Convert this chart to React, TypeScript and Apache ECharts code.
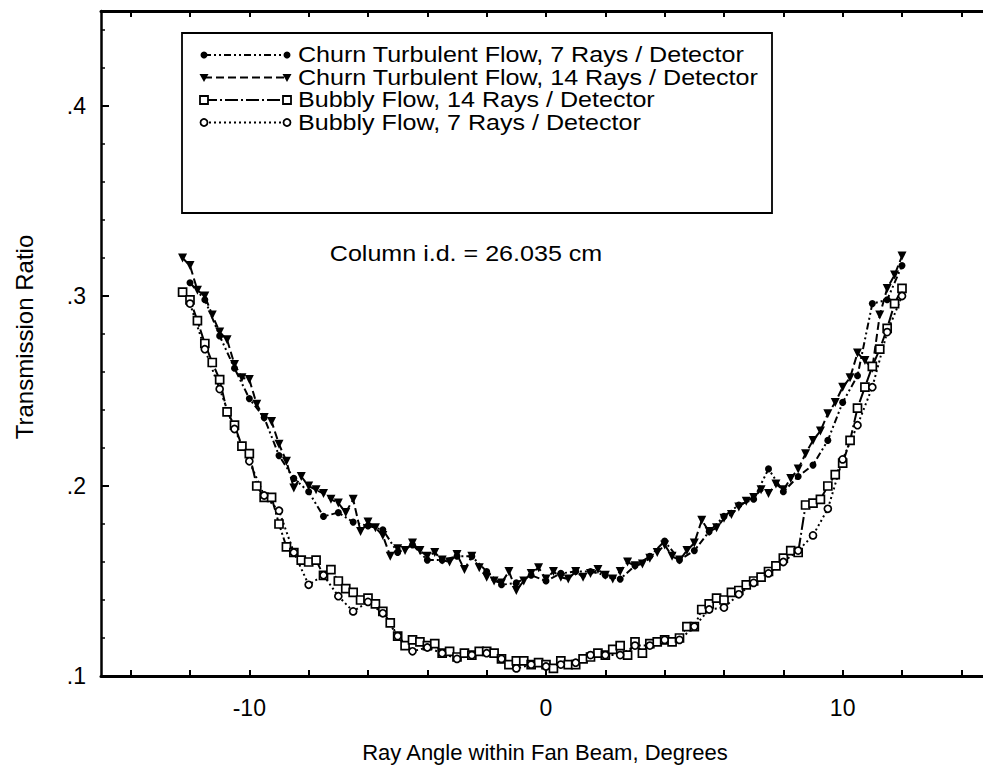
import React, { useEffect, useRef } from "react";
import * as echarts from "echarts";

// ---- data ----
const xRays14 = [
  -12.25, -12, -11.75, -11.5, -11.25, -11, -10.75, -10.5, -10.25, -10,
  -9.75, -9.5, -9.25, -9, -8.75, -8.5, -8.25, -8, -7.75, -7.5,
  -7.25, -7, -6.75, -6.5, -6.25, -6, -5.75, -5.5, -5.25, -5,
  -4.75, -4.5, -4.25, -4, -3.75, -3.5, -3.25, -3, -2.75, -2.5,
  -2.25, -2, -1.75, -1.5, -1.25, -1, -0.75, -0.5, -0.25, 0,
  0.25, 0.5, 0.75, 1, 1.25, 1.5, 1.75, 2, 2.25, 2.5,
  2.75, 3, 3.25, 3.5, 3.75, 4, 4.25, 4.5, 4.75, 5,
  5.25, 5.5, 5.75, 6, 6.25, 6.5, 6.75, 7, 7.25, 7.5,
  7.75, 8, 8.25, 8.5, 8.75, 9, 9.25, 9.5, 9.75, 10,
  10.25, 10.5, 10.75, 11, 11.25, 11.5, 11.75, 12,
];

const churn14 = [
  0.320, 0.316, 0.303, 0.300, 0.290, 0.281, 0.277, 0.264, 0.257, 0.256,
  0.243, 0.236, 0.234, 0.222, 0.213, 0.199, 0.205, 0.200, 0.198, 0.196,
  0.193, 0.191, 0.186, 0.193, 0.176, 0.181, 0.178, 0.174, 0.163, 0.167,
  0.166, 0.170, 0.166, 0.163, 0.165, 0.161, 0.160, 0.164, 0.156, 0.163,
  0.157, 0.152, 0.150, 0.149, 0.155, 0.145, 0.150, 0.154, 0.157, 0.151,
  0.155, 0.152, 0.151, 0.155, 0.152, 0.154, 0.156, 0.153, 0.151, 0.155,
  0.160, 0.158, 0.159, 0.162, 0.165, 0.169, 0.163, 0.161, 0.166, 0.170,
  0.182, 0.176, 0.178, 0.183, 0.185, 0.189, 0.192, 0.194, 0.198, 0.196,
  0.201, 0.198, 0.204, 0.209, 0.217, 0.224, 0.229, 0.238, 0.244, 0.252,
  0.257, 0.270, 0.266, 0.262, 0.290, 0.304, 0.311, 0.321,
];

const bubbly14 = [
  0.302, 0.298, 0.287, 0.275, 0.265, 0.256, 0.239, 0.232, 0.221, 0.217,
  0.200, 0.194, 0.194, 0.180, 0.168, 0.165, 0.161, 0.160, 0.161, 0.153,
  0.156, 0.150, 0.146, 0.144, 0.140, 0.141, 0.138, 0.134, 0.128, 0.121,
  0.116, 0.119, 0.118, 0.116, 0.117, 0.112, 0.113, 0.110, 0.112, 0.111,
  0.113, 0.113, 0.112, 0.109, 0.106, 0.108, 0.108, 0.106, 0.107, 0.106,
  0.104, 0.108, 0.106, 0.106, 0.109, 0.110, 0.112, 0.111, 0.114, 0.116,
  0.111, 0.118, 0.112, 0.117, 0.118, 0.119, 0.118, 0.120, 0.126, 0.126,
  0.135, 0.138, 0.141, 0.140, 0.144, 0.145, 0.148, 0.150, 0.152, 0.155,
  0.158, 0.162, 0.166, 0.165, 0.190, 0.191, 0.193, 0.200, 0.206, 0.212,
  0.224, 0.241, 0.252, 0.263, 0.272, 0.283, 0.296, 0.304,
];

const xRays7 = [
  -12, -11.5, -11, -10.5, -10, -9.5, -9, -8.5, -8, -7.5,
  -7, -6.5, -6, -5.5, -5, -4.5, -4, -3.5, -3, -2.5,
  -2, -1.5, -1, -0.5, 0, 0.5, 1, 1.5, 2, 2.5,
  3, 3.5, 4, 4.5, 5, 5.5, 6, 6.5, 7, 7.5,
  8, 8.5, 9, 9.5, 10, 10.5, 11, 11.5, 12,
];

const churn7 = [
  0.307, 0.298, 0.279, 0.262, 0.246, 0.236, 0.216, 0.204, 0.197, 0.184,
  0.186, 0.181, 0.179, 0.177, 0.165, 0.169, 0.161, 0.161, 0.163, 0.163,
  0.155, 0.148, 0.149, 0.153, 0.150, 0.154, 0.155, 0.155, 0.153, 0.151,
  0.158, 0.163, 0.171, 0.161, 0.166, 0.176, 0.184, 0.190, 0.193, 0.209,
  0.197, 0.205, 0.211, 0.224, 0.244, 0.258, 0.296, 0.298, 0.316,
];

const bubbly7 = [
  0.296, 0.272, 0.251, 0.230, 0.213, 0.195, 0.187, 0.165, 0.148, 0.153,
  0.142, 0.134, 0.139, 0.133, 0.121, 0.113, 0.115, 0.112, 0.109, 0.111,
  0.112, 0.109, 0.104, 0.106, 0.105, 0.106, 0.107, 0.111, 0.111, 0.111,
  0.116, 0.116, 0.119, 0.119, 0.126, 0.135, 0.136, 0.143, 0.149, 0.154,
  0.160, 0.166, 0.174, 0.188, 0.214, 0.232, 0.252, 0.281, 0.300,
];

const seriesNames = [
  "Churn Turbulent Flow, 7 Rays / Detector",
  "Churn Turbulent Flow, 14 Rays / Detector",
  "Bubbly Flow, 14 Rays / Detector",
  "Bubbly Flow, 7 Rays / Detector",
];

const xLabelValues = [-10, 0, 10];
const xTickValues = [-14, -12, -10, -8, -6, -4, -2, 0, 2, 4, 6, 8, 10, 12, 14];
const yLabelValues = [0.1, 0.2, 0.3, 0.4];
const yMinorValues = [
  0.12, 0.14, 0.16, 0.18, 0.22, 0.24, 0.26, 0.28, 0.32, 0.34, 0.36, 0.38, 0.42, 0.44,
];

const xTitle = "Ray Angle within Fan Beam, Degrees";
const yTitle = "Transmission Ratio";
const noteText = "Column i.d. = 26.035 cm";

// ---- styles ----
const FONT = '"Liberation Sans", Arial, Helvetica, sans-serif';
const dashChurn7 = [7, 3, 2, 3, 2, 3];
const dashChurn14 = [8, 4];
const dashBubbly14 = [13, 3, 2, 3];
const dashBubbly7 = [2, 3];

function pairs(xs: number[], ys: number[]) {
  return xs.map((x, i) => [x, ys[i]]);
}

function marker(kind: string, cx: number, cy: number): any {
  if (kind === "dot") {
    return { type: "circle", shape: { cx, cy, r: 3.5 }, style: { fill: "#000" }, z: 20 };
  }
  if (kind === "tri") {
    return {
      type: "polygon",
      shape: { points: [[cx - 4.5, cy - 3.5], [cx + 4.5, cy - 3.5], [cx, cy + 4.5]] },
      style: { fill: "#000" },
      z: 20,
    };
  }
  if (kind === "sq") {
    return {
      type: "rect",
      shape: { x: cx - 4, y: cy - 4, width: 8, height: 8 },
      style: { fill: "#fff", stroke: "#000", lineWidth: 1.8 },
      z: 20,
    };
  }
  return {
    type: "circle",
    shape: { cx, cy, r: 3.5 },
    style: { fill: "#fff", stroke: "#000", lineWidth: 1.8 },
    z: 20,
  };
}

export default function App() {
  const ref = useRef<HTMLDivElement>(null);

  useEffect(() => {
    if (!ref.current) return;
    const chart = echarts.init(ref.current, undefined, { renderer: "svg" });

    const legendRows = [
      { name: seriesNames[0], mk: "dot", dash: dashChurn7 },
      { name: seriesNames[1], mk: "tri", dash: dashChurn14 },
      { name: seriesNames[2], mk: "sq", dash: dashBubbly14 },
      { name: seriesNames[3], mk: "ring", dash: dashBubbly7 },
    ];
    const legendEls: any[] = [
      {
        type: "rect",
        shape: { x: 182, y: 33, width: 590, height: 180 },
        style: { fill: "#fff", stroke: "#000", lineWidth: 1.8 },
        z: 10,
      },
    ];
    legendRows.forEach((r, i) => {
      const y = 55 + i * 22.5;
      legendEls.push({
        type: "line",
        shape: { x1: 204, y1: y, x2: 287, y2: y },
        style: { stroke: "#000", lineWidth: 1.8, lineDash: r.dash },
        z: 15,
      });
      legendEls.push(marker(r.mk, 204, y));
      legendEls.push(marker(r.mk, 287, y));
      legendEls.push({
        type: "text",
        x: 298,
        y,
        scaleX: 1.14,
        style: {
          text: r.name,
          fontFamily: FONT,
          fontSize: 22,
          fill: "#000",
          align: "left",
          verticalAlign: "middle",
        },
        z: 20,
      });
    });

    const option: any = {
      animation: false,
      backgroundColor: "#fff",
      grid: {
        left: 101,
        top: 11,
        width: 890,
        height: 665,
        containLabel: false,
        outerBoundsMode: "none",
      },
      xAxis: [
        {
          type: "value",
          position: "bottom",
          min: -15,
          max: 15,
          axisLine: { show: true, onZero: false, lineStyle: { color: "#000", width: 3 } },
          axisTick: {
            show: true,
            inside: true,
            length: 6,
            customValues: xTickValues,
            lineStyle: { color: "#000", width: 2 },
          },
          axisLabel: {
            show: true,
            customValues: xLabelValues,
            color: "#000",
            fontFamily: FONT,
            fontSize: 23,
            margin: 20,
          },
          splitLine: { show: false },
        },
        {
          type: "value",
          position: "top",
          min: -15,
          max: 15,
          axisLine: { show: true, onZero: false, lineStyle: { color: "#000", width: 3 } },
          axisTick: {
            show: true,
            inside: true,
            length: 6,
            customValues: xTickValues,
            lineStyle: { color: "#000", width: 2 },
          },
          axisLabel: { show: false },
          splitLine: { show: false },
        },
      ],
      yAxis: [
        {
          type: "value",
          position: "left",
          min: 0.1,
          max: 0.45,
          axisLine: { show: true, onZero: false, lineStyle: { color: "#000", width: 2.5 } },
          axisTick: {
            show: true,
            inside: true,
            length: 8,
            customValues: yLabelValues,
            lineStyle: { color: "#000", width: 2 },
          },
          axisLabel: {
            show: true,
            customValues: yLabelValues,
            formatter: (v: number) => "." + Math.round(v * 10),
            color: "#000",
            fontFamily: FONT,
            fontSize: 23,
            margin: 15,
            padding: [10, 0, 0, 0],
          },
          splitLine: { show: false },
        },
        {
          type: "value",
          position: "left",
          min: 0.1,
          max: 0.45,
          axisLine: { show: false, onZero: false },
          axisTick: {
            show: true,
            inside: true,
            length: 4,
            customValues: yMinorValues,
            lineStyle: { color: "#000", width: 1.5 },
          },
          axisLabel: { show: false },
          splitLine: { show: false },
        },
      ],
      series: [
        {
          name: seriesNames[0],
          type: "line",
          data: pairs(xRays7, churn7),
          symbol: "circle",
          symbolSize: 7,
          itemStyle: { color: "#000" },
          lineStyle: { color: "#000", width: 2, type: dashChurn7 },
          z: 3,
        },
        {
          name: seriesNames[1],
          type: "line",
          data: pairs(xRays14, churn14),
          symbol: "triangle",
          symbolRotate: 180,
          symbolSize: 9,
          itemStyle: { color: "#000" },
          lineStyle: { color: "#000", width: 2, type: dashChurn14 },
          z: 3,
        },
        {
          name: seriesNames[2],
          type: "line",
          data: pairs(xRays14, bubbly14),
          symbol: "rect",
          symbolSize: 8,
          itemStyle: { color: "#fff", borderColor: "#000", borderWidth: 1.7 },
          lineStyle: { color: "#000", width: 2, type: dashBubbly14 },
          z: 3,
        },
        {
          name: seriesNames[3],
          type: "line",
          data: pairs(xRays7, bubbly7),
          symbol: "circle",
          symbolSize: 7,
          itemStyle: { color: "#fff", borderColor: "#000", borderWidth: 1.7 },
          lineStyle: { color: "#000", width: 2, type: dashBubbly7 },
          z: 3,
        },
      ],
      graphic: [
        ...legendEls,
        {
          type: "text",
          x: 466,
          y: 254,
          scaleX: 1.14,
          style: {
            text: noteText,
            fontFamily: FONT,
            fontSize: 22,
            fill: "#000",
            align: "center",
            verticalAlign: "middle",
          },
        },
        {
          type: "text",
          x: 545,
          y: 752,
          style: {
            text: xTitle,
            fontFamily: FONT,
            fontSize: 22,
            fill: "#000",
            align: "center",
            verticalAlign: "middle",
          },
        },
        {
          type: "text",
          x: 24,
          y: 337,
          rotation: Math.PI / 2,
          style: {
            text: yTitle,
            fontFamily: FONT,
            fontSize: 24,
            fill: "#000",
            align: "center",
            verticalAlign: "middle",
          },
        },
      ],
    };

    chart.setOption(option);
    return () => chart.dispose();
  }, []);

  return (
    <div
      ref={ref}
      style={{ position: "fixed", left: 0, top: 0, width: 983, height: 779, background: "#fff" }}
    />
  );
}
